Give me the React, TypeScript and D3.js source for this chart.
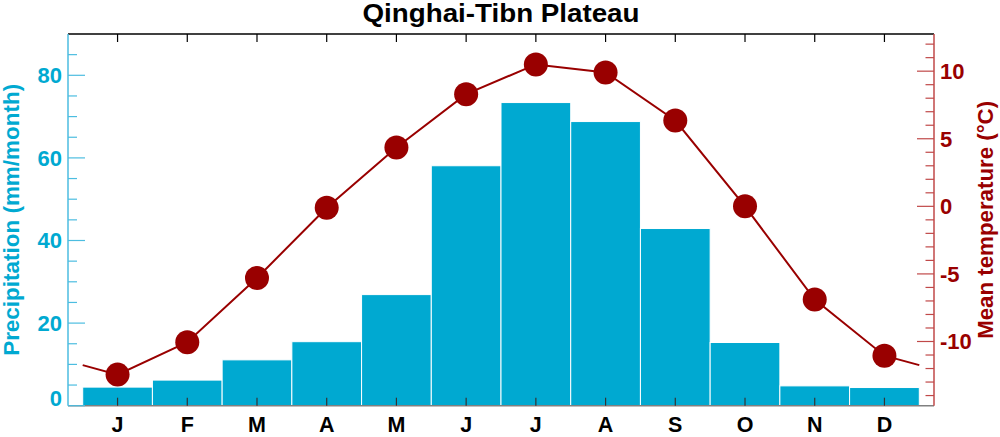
import React from "react";
import * as d3 from "d3";

const months = ["J", "F", "M", "A", "M", "J", "J", "A", "S", "O", "N", "D"];
const precipitation = [4.5, 6.2, 11.1, 15.5, 26.9, 58.1, 73.4, 68.8, 42.9, 15.3, 4.8, 4.4];
const temperature = [-12.45, -10.05, -5.3, -0.1, 4.35, 8.3, 10.5, 9.9, 6.35, 0.0, -6.9, -11.05];
const precipMajorTicks = [0, 20, 40, 60, 80];
const tempMajorTicks = [-10, -5, 0, 5, 10];
const title = "Qinghai-Tibn Plateau";

const W = 1000;
const H = 437;
const plot = { left: 68, right: 934, top: 34, bottom: 405.7 };
const barRange: [number, number] = [82.7, 919.3];

const BLUE = "#00a9d1";
const BLUE_AXIS = "#4cbde0";
const RED = "#990000";
const RED_AXIS = "#c04848";
const FONT = "'Liberation Sans', Arial, Helvetica, sans-serif";

export default function App() {
  const idx = months.map((_, i) => i);
  const x = d3.scaleBand<number>().domain(idx).range(barRange).padding(0);
  const bw = x.bandwidth();
  const cx = (i: number) => (x(i) as number) + bw / 2;
  const yP = d3.scaleLinear().domain([0, 90]).range([plot.bottom, plot.top]);
  const yT = d3.scaleLinear().domain([-14.75, 12.75]).range([plot.bottom, plot.top]);

  const wrapVal = (temperature[0] + temperature[temperature.length - 1]) / 2;
  const linePts: [number, number][] = [
    [barRange[0], yT(wrapVal)],
    ...temperature.map((t, i) => [cx(i), yT(t)] as [number, number]),
    [barRange[1], yT(wrapVal)],
  ];
  const line = d3.line();

  const pMinor = d3.range(0, 90, 5);
  const tMinor = d3.range(-14, 13, 1);
  const midY = (plot.top + plot.bottom) / 2;

  return (
    <svg width={W} height={H} style={{ position: "absolute", left: 0, top: 0, background: "#fff" }} fontFamily={FONT}>
      <rect x={0} y={0} width={W} height={H} fill="#fff" />
      {/* bars */}
      {precipitation.map((p, i) => (
        <rect
          key={"b" + i}
          x={x(i)}
          y={yP(p)}
          width={bw}
          height={yP(0) - yP(p)}
          fill={BLUE}
          stroke="#fff"
          strokeWidth={1}
        />
      ))}
      {/* top axis */}
      <line x1={plot.left} x2={plot.right} y1={plot.top} y2={plot.top} stroke="#000" strokeWidth={1.5} />
      {idx.map((i) => (
        <line key={"tt" + i} x1={cx(i)} x2={cx(i)} y1={plot.top} y2={plot.top + 8} stroke="#000" strokeWidth={1.2} />
      ))}
      {/* bottom axis */}
      <line x1={plot.left} x2={plot.right} y1={plot.bottom} y2={plot.bottom} stroke="#808080" strokeWidth={1.5} />
      {idx.map((i) => (
        <line key={"bt" + i} x1={cx(i)} x2={cx(i)} y1={plot.bottom} y2={plot.bottom - 8} stroke="#333" strokeWidth={1.2} />
      ))}
      {months.map((m, i) => (
        <text key={"ml" + i} x={cx(i)} y={432} textAnchor="middle" fontSize={21.5} fontWeight="bold" fill="#000">
          {m}
        </text>
      ))}
      {/* left axis */}
      <line x1={plot.left} x2={plot.left} y1={plot.top} y2={plot.bottom} stroke={BLUE_AXIS} strokeWidth={1.5} />
      {pMinor.map((v) => {
        const major = precipMajorTicks.includes(v);
        return (
          <line
            key={"pt" + v}
            x1={plot.left}
            x2={plot.left + (major ? 17 : 9)}
            y1={yP(v)}
            y2={yP(v)}
            stroke={BLUE_AXIS}
            strokeWidth={1.2}
          />
        );
      })}
      {precipMajorTicks.map((v) => (
        <text
          key={"pl" + v}
          x={62}
          y={yP(v) - (v === 0 ? 7.5 : 0)}
          dy="0.36em"
          textAnchor="end"
          fontSize={22}
          fontWeight="bold"
          fill={BLUE}
        >
          {v}
        </text>
      ))}
      <text
        transform={`translate(19,${midY}) rotate(-90)`}
        textAnchor="middle"
        fontSize={21.5}
        fontWeight="bold"
        fill={BLUE}
        textLength={272}
        lengthAdjust="spacingAndGlyphs"
      >
        Precipitation (mm/month)
      </text>
      {/* right axis */}
      <line x1={plot.right} x2={plot.right} y1={plot.top} y2={plot.bottom} stroke={RED_AXIS} strokeWidth={1.5} />
      {tMinor.map((v) => {
        const major = tempMajorTicks.includes(v);
        return (
          <line
            key={"tt2" + v}
            x1={plot.right}
            x2={plot.right - (major ? 17 : 8.5)}
            y1={yT(v)}
            y2={yT(v)}
            stroke={RED_AXIS}
            strokeWidth={1.2}
          />
        );
      })}
      {tempMajorTicks.map((v) => (
        <text key={"tl" + v} x={940} y={yT(v)} dy="0.36em" textAnchor="start" fontSize={22} fontWeight="bold" fill={RED}>
          {v}
        </text>
      ))}
      <text
        transform={`translate(993,${midY}) rotate(-90)`}
        textAnchor="middle"
        fontSize={21.5}
        fontWeight="bold"
        fill={RED}
        textLength={238}
        lengthAdjust="spacingAndGlyphs"
      >
        Mean temperature (°C)
      </text>
      {/* temperature line */}
      <path d={line(linePts) || ""} fill="none" stroke={RED} strokeWidth={2} />
      {temperature.map((t, i) => (
        <circle key={"c" + i} cx={cx(i)} cy={yT(t)} r={12} fill={RED} />
      ))}
      {/* title */}
      <text
        x={501}
        y={22}
        textAnchor="middle"
        fontSize={25}
        fontWeight="bold"
        fill="#000"
        textLength={277}
        lengthAdjust="spacingAndGlyphs"
      >
        {title}
      </text>
    </svg>
  );
}
